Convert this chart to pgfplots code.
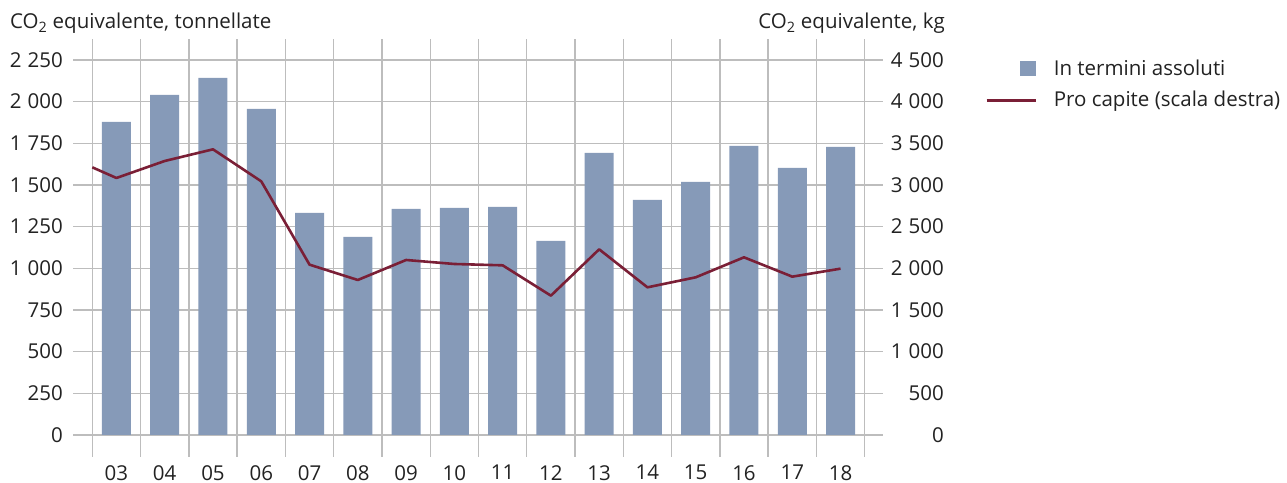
\documentclass[border=0pt]{standalone}
\usepackage{pgfplots}
\pgfplotsset{compat=1.18}
\usepackage{fontspec}
\setmainfont{Open Sans}
\definecolor{barcol}{HTML}{869AB8}
\definecolor{linecol}{HTML}{7A1F36}
\definecolor{gridcol}{HTML}{BDBDBD}
\definecolor{txt}{HTML}{222222}
\newcommand{\f}{\fontsize{20.5bp}{24bp}\selectfont}
\pgfplotsset{
  common/.style={
    at={(73bp,26bp)}, anchor=south west, scale only axis,
    width=810bp, height=418bp,
    xmin=-0.9, xmax=15.88,
    axis line style={draw=none},
    major tick length=0pt, minor tick length=0pt,
    tick style={draw=none},
    tick label style={font=\f, text=txt, inner sep=0pt},
    /pgf/number format/.cd, 1000 sep={\hspace{0.3em}}, assume math mode=true,
  },
}
\begin{document}
\begin{tikzpicture}[x=1bp,y=1bp,font=\f,text=txt]
\path[use as bounding box] (0,0) rectangle (1287,483);
\begin{axis}[common,
  ymin=-132, ymax=2376,
  xtick={0,1,2,3,4,5,6,7,8,9,10,11,12,13,14,15},
  xticklabels={03,04,05,06,07,08,09,10,11,12,13,14,15,16,17,18},
  minor xtick={-0.5,0.5,1.5,2.5,3.5,4.5,5.5,6.5,7.5,8.5,9.5,10.5,11.5,12.5,13.5,14.5,15.5},
  xminorgrids, xmajorgrids=false,
  ytick={0,250,500,750,1000,1250,1500,1750,2000,2250},
  ymajorgrids,
  grid style={draw=gridcol, line width=1.3bp},
  minor grid style={draw=gridcol, line width=1.3bp},
  yticklabel style={anchor=east, xshift=-10bp},
  xticklabel style={anchor=north, yshift=-8bp},
]
\addplot[ybar, bar width=29bp, fill=barcol, draw=none] coordinates {
(0,1878) (1,2040) (2,2142) (3,1956) (4,1332) (5,1188) (6,1356) (7,1362)
(8,1368) (9,1164) (10,1692) (11,1410) (12,1518) (13,1734) (14,1602) (15,1728)};
\end{axis}
\begin{axis}[common,
  ymin=-264, ymax=4752,
  xtick=\empty,
  ytick={0,500,1000,1500,2000,2500,3000,3500,4000,4500},
  yticklabel pos=right,
  yticklabel style={anchor=east, xshift=61bp},
  legend cell align=left,
  legend style={at={(rel axis cs:1.12593,0.94976)}, anchor=north west,
    draw=none, fill=none, inner sep=0pt, row sep=11.7bp,
    font=\f,
    nodes={inner sep=0pt, text height=15bp, text depth=5bp, text=txt},
    /tikz/every odd column/.append style={column sep=17bp}},
]
\addlegendimage{legend image code/.code={\fill[barcol] (34bp,-5bp) rectangle (49bp,9bp); \path (0bp,-5bp) (49bp,9bp);}}
\addlegendentry{In termini assoluti}
\addplot[linecol, line width=2.6bp, line join=round,
  legend image code/.code={\draw[linecol, line width=2.6bp] (0bp,1.5bp) -- (49bp,1.5bp);}] coordinates {
(-0.5,3212) (0,3084) (1,3288) (2,3428) (3,3044) (4,2044) (5,1860) (6,2100)
(7,2052) (8,2036) (9,1672) (10,2228) (11,1772) (12,1892) (13,2132) (14,1900) (15,1996)};
\addlegendentry{Pro capite (scala destra)}
\end{axis}
\node[anchor=base west, inner sep=0pt] at (10,454) {CO\textsubscript{2} equivalente, tonnellate};
\node[anchor=base east, inner sep=0pt] at (945,454) {CO\textsubscript{2} equivalente, kg};
\end{tikzpicture}
\end{document}
